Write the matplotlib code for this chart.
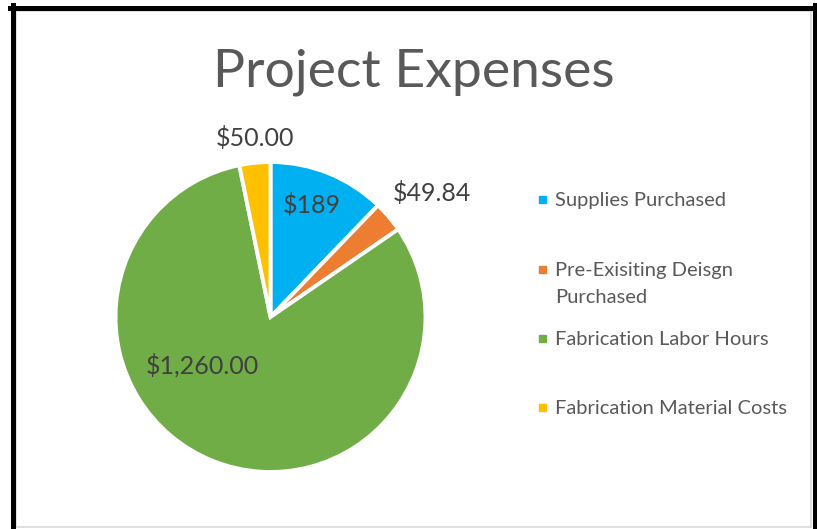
import matplotlib.pyplot as plt
import numpy as np
from matplotlib.patches import Rectangle
from matplotlib.lines import Line2D

categories = ["Supplies Purchased", "Pre-Exisiting Deisgn\nPurchased",
              "Fabrication Labor Hours", "Fabrication Material Costs"]
values = [189, 49.84, 1260.00, 50.00]
value_labels = ["$189", "$49.84", "$1,260.00", "$50.00"]
colors = ["#00b0f0", "#ed7d31", "#70ad47", "#ffc000"]

# label placement (radius factor, angle in degrees)
label_pos = [(0.77, 70), (1.31, 37.5), (0.54, 215), (1.16, 95)]

W, H = 817, 529
plt.rcParams['font.family'] = ['Lato', 'DejaVu Sans']
fig = plt.figure(figsize=(W / 100, H / 100), dpi=100)

cx, cy, r = 270.5, 317, 155
ax = fig.add_axes([(cx - r) / W, (H - cy - r) / H, 2 * r / W, 2 * r / H])
ax.pie(values, colors=colors, startangle=90, counterclock=False,
       wedgeprops=dict(edgecolor="white", linewidth=2.8))
ax.set_xlim(-1, 1)
ax.set_ylim(-1, 1)
ax.set_aspect("equal")
ax.axis("off")

for (rf, ang), lab in zip(label_pos, value_labels):
    a = np.deg2rad(ang)
    ax.text(rf * np.cos(a), rf * np.sin(a), lab, ha="center", va="center",
            fontsize=18, color="#404040", clip_on=False)

fig.text(414 / W, 1 - 72 / H, "Project Expenses", ha="center", va="center",
         fontsize=38.5, color="#595959")

# legend drawn by hand
leg_y = [199, 269, 338, 407]
for y, lab, c in zip(leg_y, categories, colors):
    fig.patches.append(Rectangle((539 / W, 1 - (y + 4) / H), 7 / W, 7 / H,
                                 transform=fig.transFigure, color=c))
    fig.text(555 / W, 1 - (y - 7) / H, lab, ha="left", va="top",
             fontsize=14.5, color="#595959", linespacing=1.68)

# frame around chart
def px_line(x0, y0, x1, y1, color, lw):
    fig.lines.append(Line2D([x0 / W, x1 / W], [1 - y0 / H, 1 - y1 / H],
                            transform=fig.transFigure, color=color, linewidth=lw))

px_line(15, 11, 812, 11, "#d9d9d9", 1.2)
px_line(16, 11, 16, 527, "#d9d9d9", 1.2)
px_line(811, 11, 811, 527, "#d9d9d9", 1.2)
px_line(16, 527, 811, 527, "#d9d9d9", 1.2)
px_line(10, 7.5, 817, 7.5, "black", 3.6)
px_line(12.5, 5, 12.5, 529, "black", 3.6)
px_line(815, 5, 815, 529, "black", 3.6)

fig.savefig("out.png", dpi=100, facecolor="white")
